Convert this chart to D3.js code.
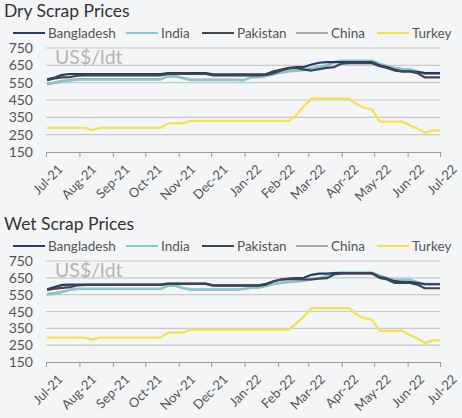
<!DOCTYPE html>
<html>
<head>
<meta charset="UTF-8">
<title>Scrap Prices</title>
<style>
  body { margin: 0; background: #f4f5f7; }
  svg { display: block; font-family: Lato, "Open Sans", sans-serif; }
</style>
</head>
<body>
<script src="https://d3js.org/d3.v7.min.js"></script>
<script>
// weekly observations, Jul-21 .. Jul-22 (53 weeks)
var seriesNames = ["Bangladesh", "India", "Pakistan", "China", "Turkey"]
var seriesColors = ["#283a6a", "#86c8d2", "#3e4551", "#a9a9a9", "#f3e24c"]

var dryBangladesh = [570,580,595,600,600,600,600,600,600,600,600,600,600,600,600,600,605,605,605,605,605,605,598,598,598,598,598,598,598,600,615,625,635,640,640,655,665,668,668,668,668,668,668,668,650,640,625,615,615,612,605,605,605]
var dryIndia      = [538,548,555,562,568,568,568,568,568,568,568,568,568,568,568,568,585,585,575,565,565,565,565,565,565,565,562,582,582,590,600,612,620,620,625,635,640,650,670,678,678,678,678,678,660,645,635,630,628,615,605,605,605]
var dryPakistan   = [565,575,580,582,590,592,592,592,592,592,592,592,592,592,592,592,600,600,600,600,600,600,592,592,592,592,592,592,592,595,605,620,632,635,625,620,628,635,640,660,662,662,662,662,645,635,620,615,615,605,580,580,580]
var dryChina      = [545,552,560,565,570,570,570,570,570,570,570,570,570,570,570,570,588,588,578,568,568,568,568,568,568,568,565,580,582,588,598,608,615,618,622,632,638,648,668,675,675,675,675,675,658,645,635,628,625,612,600,600,600]
var dryTurkey     = [290,290,290,290,290,290,276,290,290,290,290,290,290,290,290,290,315,315,315,330,330,330,330,330,330,330,330,330,330,330,330,330,330,365,415,458,458,458,458,458,458,425,405,395,325,325,325,325,305,285,262,275,275]

var wetBangladesh = [582,595,608,610,610,610,610,610,610,610,610,610,610,610,610,610,616,616,616,616,616,616,605,605,605,605,605,605,605,615,630,640,645,648,650,668,675,675,678,678,678,678,678,678,655,645,630,625,625,620,612,612,612]
var wetIndia      = [550,555,565,578,585,585,585,585,585,585,585,585,585,585,585,585,605,605,590,582,582,582,582,582,582,582,585,592,592,605,615,622,628,630,635,645,650,660,680,682,682,682,682,682,665,650,640,640,640,625,615,615,615]
var wetPakistan   = [578,585,590,595,605,608,608,608,608,608,608,608,608,608,608,608,614,614,614,614,614,614,604,604,604,604,604,604,604,610,630,640,642,642,640,640,645,648,670,676,676,676,676,676,650,640,620,620,620,610,588,588,588]
var wetChina      = [555,560,568,578,584,584,584,584,584,584,584,584,584,584,584,584,602,602,588,580,580,580,580,580,580,580,583,590,592,602,612,620,625,628,632,642,648,658,676,678,678,678,678,678,662,648,638,636,636,622,612,612,612]
var wetTurkey     = [295,295,295,295,295,295,283,295,295,295,295,295,295,295,295,295,325,325,325,342,342,342,342,342,342,342,342,342,342,342,342,342,342,380,420,470,470,470,470,470,470,430,410,402,335,335,335,335,310,290,262,278,278]

var yTicks = [150, 250, 350, 450, 550, 650, 750]
var monthTicks = ["2021-07-01","2021-08-01","2021-09-01","2021-10-01","2021-11-01","2021-12-01",
                  "2022-01-01","2022-02-01","2022-03-01","2022-04-01","2022-05-01","2022-06-01","2022-07-01"]

var parse = d3.timeParse("%Y-%m-%d")
var firstWeek = parse("2021-07-02")
var weeks = dryTurkey.map(function(d, i){ return d3.timeDay.offset(firstWeek, 7 * i) })

var width = 462
var height = 418

var svg = d3.select("body").append("svg")
    .attr("width", width)
    .attr("height", height)

svg.append("rect").attr("width", width).attr("height", height).attr("fill", "#f4f5f7")

function drawPanel(top, plotTop, plotBottom, title, values){
    var g = svg.append("g").attr("transform", "translate(0," + top + ")")

    var x = d3.scaleTime()
        .domain([parse(monthTicks[0]), parse(monthTicks[monthTicks.length - 1])])
        .range([46, 440])
    var y = d3.scaleLinear().domain([150, 750]).range([plotBottom, plotTop])

    g.append("text")
        .attr("x", 4).attr("y", 17)
        .attr("font-size", "17.5px")
        .attr("fill", "#333")
        .text(title)

    // legend
    var legendX = [13, 126, 202, 296, 377]
    var leg = g.selectAll(".leg").data(seriesNames).enter().append("g")
        .attr("transform", function(d, i){ return "translate(" + legendX[i] + ",33)" })
    leg.append("line")
        .attr("x1", 0).attr("x2", 32)
        .attr("stroke", function(d, i){ return seriesColors[i] })
        .attr("stroke-width", 2)
    leg.append("text")
        .attr("x", 35).attr("dy", "0.35em")
        .attr("font-size", "13.5px")
        .attr("fill", "#555")
        .text(function(d){ return d })

    // gridlines + y labels
    g.selectAll(".grid").data(yTicks.slice(1)).enter().append("line")
        .attr("x1", 46).attr("x2", 440)
        .attr("y1", function(d){ return y(d) }).attr("y2", function(d){ return y(d) })
        .attr("stroke", "#c9c9c9").attr("stroke-width", 1.2)

    g.selectAll(".ylab").data(yTicks).enter().append("text")
        .attr("x", 33).attr("y", function(d){ return y(d) })
        .attr("dy", "0.36em")
        .attr("text-anchor", "end")
        .attr("font-size", "14px")
        .attr("fill", "#555")
        .text(function(d){ return d })

    g.append("text")
        .attr("x", 55).attr("y", plotTop + 16)
        .attr("font-size", "19.5px")
        .attr("fill", "#b5b5b5")
        .text("US$/ldt")

    // x axis
    var xAxis = d3.axisBottom(x)
        .tickValues(monthTicks.map(parse))
        .tickFormat(d3.timeFormat("%b-%y"))
        .tickSize(5)
        .tickSizeOuter(0)
    var ax = g.append("g").attr("transform", "translate(0," + plotBottom + ")").call(xAxis)
    ax.select(".domain").attr("stroke", "#9a9a9a").attr("stroke-width", 1.2)
    ax.selectAll(".tick line").attr("stroke", "#9a9a9a")
    ax.selectAll(".tick text")
        .attr("font-family", "Lato, sans-serif")
        .attr("font-size", "13px")
        .attr("fill", "#555")
        .attr("text-anchor", "end")
        .attr("transform", "translate(5,6) rotate(-45)")
        .attr("dy", "0.7em")
        .attr("dx", "0")

    var line = d3.line()
        .x(function(d, i){ return x(weeks[i]) })
        .y(function(d){ return y(d) })

    // draw China first, then the rest so dark lines sit on top
    var order = [3, 1, 0, 2, 4]
    order.forEach(function(k){
        g.append("path")
            .datum(values[k])
            .attr("fill", "none")
            .attr("stroke", seriesColors[k])
            .attr("stroke-width", 2.2)
            .attr("stroke-linejoin", "round")
            .attr("d", line)
    })
}

drawPanel(0, 48, 152, "Dry Scrap Prices", [dryBangladesh, dryIndia, dryPakistan, dryChina, dryTurkey])
drawPanel(213, 48, 149, "Wet Scrap Prices", [wetBangladesh, wetIndia, wetPakistan, wetChina, wetTurkey])
</script>
</body>
</html>
